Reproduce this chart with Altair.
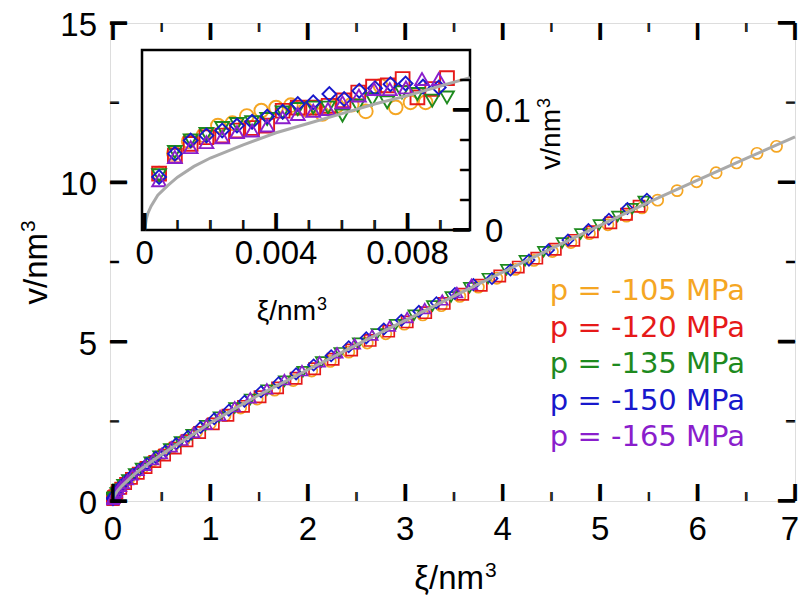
import altair as alt
import pandas as pd

# ---------------- data ----------------
series = ["p = -105 MPa", "p = -120 MPa", "p = -135 MPa", "p = -150 MPa", "p = -165 MPa"]
colors = ["#F5A623", "#E61919", "#1E8A1E", "#1818CC", "#8A1ECC"]
shapes = ["circle", "square", "triangle-down", "diamond", "triangle-up"]

ins_o_xi = [0.00044, 0.00089, 0.00134, 0.00179, 0.00223, 0.00267, 0.00311, 0.00355, 0.004, 0.00445,
            0.0049, 0.00541, 0.00585, 0.0063, 0.00673, 0.00718, 0.00764, 0.00809, 0.00855]
ins_o_v = [0.047, 0.064, 0.074, 0.079, 0.087, 0.089, 0.095, 0.0995, 0.102, 0.104,
           0.1005, 0.0967, 0.1035, 0.1045, 0.0989, 0.12, 0.1022, 0.1064, 0.1064]
ins_r_xi = [0.00044, 0.00092, 0.0014, 0.00188, 0.00236, 0.00281, 0.00327, 0.00373, 0.0042, 0.00466,
            0.00513, 0.0056, 0.00605, 0.0065, 0.00695, 0.0074, 0.00785, 0.0083, 0.00875, 0.0092]
ins_r_v = [0.047, 0.062, 0.0718, 0.0773, 0.0787, 0.0829, 0.085, 0.087, 0.0994, 0.102,
           0.102, 0.1035, 0.108, 0.1146, 0.1195, 0.1205, 0.1258, 0.1105, 0.1175, 0.1266]
ins_g_xi = [0.00044, 0.00092, 0.0014, 0.00188, 0.00236, 0.00281, 0.00327, 0.00373, 0.0042, 0.00466,
            0.00513, 0.00558, 0.00602, 0.00648, 0.00693, 0.00738, 0.00783, 0.0083, 0.00875, 0.0092]
ins_g_v = [0.0456, 0.065, 0.0746, 0.08, 0.085, 0.0884, 0.0898, 0.0925, 0.098, 0.1008,
           0.102, 0.102, 0.0954, 0.1036, 0.109, 0.1064, 0.1147, 0.1133, 0.1078, 0.1105]
ins_b_xi = [0.00044, 0.00092, 0.0014, 0.00188, 0.00236, 0.00281, 0.00327, 0.00373, 0.0042, 0.00466,
            0.00513, 0.00562, 0.00607, 0.00653, 0.00701, 0.00748, 0.00794, 0.00847, 0.00895]
ins_b_v = [0.0442, 0.0635, 0.0746, 0.0787, 0.0829, 0.087, 0.0903, 0.0945, 0.0986, 0.105,
           0.1064, 0.1133, 0.1091, 0.116, 0.1182, 0.1215, 0.1221, 0.1195, 0.1188]
ins_p_xi = [0.00044, 0.00092, 0.0014, 0.00188, 0.00236, 0.00281, 0.00327, 0.00373, 0.0042, 0.00466,
            0.00513, 0.00558, 0.00602, 0.00652, 0.00698, 0.00746, 0.00795, 0.00844, 0.00895]
ins_p_v = [0.0414, 0.0608, 0.069, 0.0732, 0.0773, 0.0815, 0.0829, 0.087, 0.0939, 0.0967,
           0.0994, 0.1008, 0.1064, 0.112, 0.1175, 0.1174, 0.1188, 0.1258, 0.1258]

o_xi = [0.02, 0.05, 0.1, 0.16, 0.23, 0.31, 0.4, 0.5, 0.61, 0.73, 0.86, 1.0, 1.15, 1.31, 1.48,
        1.66, 1.85, 2.04, 2.23, 2.42, 2.61, 2.8, 2.99, 3.18, 3.37, 3.56, 3.75, 3.94, 4.13, 4.32,
        4.51, 4.7, 4.89, 5.08, 5.27, 5.43, 5.59, 5.79, 5.99, 6.19, 6.4, 6.61, 6.81]
o_v = [0.19, 0.33, 0.5, 0.67, 0.86, 1.05, 1.25, 1.46, 1.68, 1.91, 2.17, 2.43, 2.68, 2.92, 3.2,
       3.48, 3.78, 4.08, 4.38, 4.67, 4.96, 5.25, 5.55, 5.84, 6.13, 6.42, 6.71, 6.99, 7.27, 7.55,
       7.83, 8.11, 8.39, 8.67, 8.94, 9.2, 9.44, 9.74, 10.02, 10.3, 10.61, 10.91, 11.13]
r_xi = [0.02, 0.04, 0.08, 0.13, 0.19, 0.26, 0.34, 0.43, 0.53, 0.64, 0.76, 0.89, 1.03, 1.18, 1.34,
        1.51, 1.69, 1.88, 2.07, 2.26, 2.45, 2.64, 2.83, 3.02, 3.21, 3.4, 3.59, 3.78, 3.97, 4.16,
        4.35, 4.54, 4.73, 4.92, 5.11, 5.27, 5.4]
r_v = [0.17, 0.26, 0.4, 0.55, 0.71, 0.87, 1.05, 1.24, 1.44, 1.66, 1.89, 2.15, 2.42, 2.69, 2.97,
       3.27, 3.55, 3.85, 4.15, 4.45, 4.74, 5.04, 5.33, 5.62, 5.91, 6.2, 6.49, 6.77, 7.06, 7.34,
       7.62, 7.9, 8.18, 8.45, 8.73, 9.0, 9.25]
g_xi = [0.03, 0.06, 0.1, 0.15, 0.22, 0.29, 0.38, 0.47, 0.58, 0.69, 0.81, 0.95, 1.09, 1.25, 1.41,
        1.58, 1.76, 1.95, 2.14, 2.33, 2.52, 2.71, 2.9, 3.09, 3.28, 3.47, 3.66, 3.85, 4.04, 4.23,
        4.42, 4.61, 4.8, 4.99, 5.18, 5.33, 5.45]
g_v = [0.25, 0.37, 0.51, 0.66, 0.85, 1.02, 1.22, 1.41, 1.63, 1.85, 2.08, 2.36, 2.63, 2.92, 3.19,
       3.48, 3.76, 4.06, 4.36, 4.65, 4.95, 5.24, 5.53, 5.83, 6.12, 6.4, 6.69, 6.98, 7.26, 7.54,
       7.82, 8.1, 8.38, 8.66, 8.93, 9.17, 9.4]
b_xi = [0.02, 0.05, 0.09, 0.14, 0.2, 0.27, 0.35, 0.44, 0.54, 0.65, 0.77, 0.9, 1.04, 1.19, 1.35,
        1.52, 1.7, 1.88, 2.06, 2.24, 2.42, 2.6, 2.78, 2.96, 3.14, 3.32, 3.51, 3.7, 3.89, 4.08,
        4.27, 4.47, 4.67, 4.88, 5.09, 5.28, 5.48]
b_v = [0.2, 0.35, 0.5, 0.65, 0.82, 0.98, 1.17, 1.37, 1.57, 1.8, 2.03, 2.31, 2.58, 2.85, 3.13,
       3.43, 3.71, 3.99, 4.27, 4.56, 4.84, 5.12, 5.4, 5.67, 5.95, 6.22, 6.51, 6.79, 6.98, 7.25,
       7.56, 7.88, 8.19, 8.52, 8.84, 9.18, 9.47]
p_xi = [0.01, 0.02, 0.035, 0.055, 0.08, 0.11, 0.15, 0.2, 0.26, 0.33, 0.41, 0.5, 0.6, 0.71, 0.83,
        0.96, 1.1, 1.25, 1.41, 1.58, 1.76, 1.94, 2.12, 2.3, 2.48, 2.66, 2.84, 3.02, 3.2, 3.38,
        3.53, 3.68]
p_v = [0.14, 0.21, 0.28, 0.37, 0.46, 0.55, 0.67, 0.82, 0.96, 1.12, 1.3, 1.49, 1.7, 1.91, 2.15,
       2.41, 2.68, 2.96, 3.24, 3.52, 3.81, 4.09, 4.37, 4.65, 4.93, 5.21, 5.49, 5.76, 6.04, 6.31,
       6.54, 6.8]

cm_xi = [0, 0.002, 0.005, 0.01, 0.02, 0.05, 0.1, 0.2, 0.3, 0.4, 0.5, 0.6, 0.8, 1.0, 1.25, 1.5,
         2.0, 2.5, 3.0, 3.5, 4.0, 4.5, 5.0, 5.5, 6.0, 6.5, 7.0]
cm_v = [0, 0.055, 0.088, 0.127, 0.19, 0.33, 0.5, 0.79, 1.03, 1.25, 1.46, 1.66, 2.05, 2.45, 2.9,
        3.33, 4.12, 4.9, 5.67, 6.43, 7.18, 7.92, 8.65, 9.38, 10.07, 10.75, 11.43]
ci_xi = [0, 0.00005, 0.0001, 0.0002, 0.0004, 0.0007, 0.001, 0.0015, 0.002, 0.003, 0.004, 0.005,
         0.006, 0.007, 0.008, 0.009, 0.0099]
ci_v = [0, 0.009, 0.014, 0.02, 0.029, 0.037, 0.044, 0.053, 0.06, 0.071, 0.081, 0.089, 0.097,
        0.105, 0.112, 0.12, 0.127]

mx_major = [0, 1, 2, 3, 4, 5, 6, 7]
mx_labels = ["0", "1", "2", "3", "4", "5", "6", "7"]
mx_minor = [0.5, 1.5, 2.5, 3.5, 4.5, 5.5, 6.5]
my_major = [0, 5, 10, 15]
my_labels = ["0", "5", "10", "15"]
my_minor = [2.5, 7.5, 12.5]
ix_major = [0, 0.004, 0.008]
ix_labels = ["0", "0.004", "0.008"]
ix_minor = [0.001, 0.002, 0.003, 0.005, 0.006, 0.007, 0.009]
iy_major = [0, 0.1]
iy_labels = ["0", "0.1"]
iy_minor = [0.025, 0.05, 0.075, 0.125]

# ---------------- build ----------------
ins_x = [ins_o_xi, ins_r_xi, ins_g_xi, ins_b_xi, ins_p_xi]
ins_y = [ins_o_v, ins_r_v, ins_g_v, ins_b_v, ins_p_v]
main_x = [o_xi, r_xi, g_xi, b_xi, p_xi]
main_y = [o_v, r_v, g_v, b_v, p_v]

rows_main, rows_ins = [], []
for s, ix, iv, mx, mv in zip(series, ins_x, ins_y, main_x, main_y):
    for a, b in zip(ix, iv):
        rows_ins.append({"xi": a, "v": b, "series": s})
        rows_main.append({"xi": a, "v": b, "series": s})
    for a, b in zip(mx, mv):
        rows_main.append({"xi": a, "v": b, "series": s})
df_main = pd.DataFrame(rows_main)
df_ins = pd.DataFrame(rows_ins)
df_cm = pd.DataFrame({"xi": cm_xi, "v": cm_v})
df_ci = pd.DataFrame({"xi": ci_xi, "v": ci_v})

W, H = 685, 478
FONT = "Liberation Sans"
LW = 2.5
MX = alt.Scale(domain=[-0.03, 7], nice=False, zero=False)
MY = alt.Scale(domain=[0, 15], nice=False, zero=False)
I_L, I_R, I_T, I_B = 32, 360, 27, 207
IX = alt.Scale(domain=[-0.00008, 0.0099], range=[I_L, I_R], nice=False, zero=False)
IY = alt.Scale(domain=[0, 0.15], range=[I_B, I_T], nice=False, zero=False)

col_sc = alt.Scale(domain=series, range=colors)
shp_sc = alt.Scale(domain=series, range=shapes)

# A bold "|" glyph spans about 0.73 em above and 0.21 em below its baseline.
UP, DN = 0.73, 0.21


def tick_glyphs(vals, scale, axis, edge, inward, length):
    """Inward tick marks drawn as bar glyphs (two copies side by side for thickness)."""
    fs = length / (UP + DN)
    df = pd.DataFrame({"tv": vals, "g": ["|"] * len(vals)})
    if axis == "x":
        if inward < 0:
            base_pos, ang = edge - DN * fs, 0
        else:
            base_pos, ang = edge + DN * fs, 180
    else:
        if inward > 0:
            base_pos, ang = edge + DN * fs, 90
        else:
            base_pos, ang = edge - DN * fs, 270
    out = []
    for off in (-0.6, 0.6):
        mk = alt.Chart(df).mark_text(
            font=FONT, fontSize=fs, fontWeight="bold", align="center", baseline="alphabetic",
            angle=ang, dx=off, color="black",
        )
        if axis == "x":
            out.append(mk.encode(x=alt.X("tv:Q", scale=scale, axis=None),
                                 y=alt.value(base_pos), text="g:N"))
        else:
            out.append(mk.encode(y=alt.Y("tv:Q", scale=scale, axis=None),
                                 x=alt.value(base_pos), text="g:N"))
    return out


def sup_title(text, size, x, y, angle=0):
    base = alt.Chart(pd.DataFrame({"t": [text]})).mark_text(
        font=FONT, fontSize=size, align="right", baseline="alphabetic", color="black", angle=angle
    ).encode(x=alt.value(x), y=alt.value(y), text="t:N")
    ss = round(size * 0.64)
    raise_ = round(size * 0.36)
    if angle == 0:
        sx, sy = x + 1, y - raise_
    else:
        sx, sy = x - raise_, y - 1
    sup = alt.Chart(pd.DataFrame({"t": ["3"]})).mark_text(
        font=FONT, fontSize=ss, align="left", baseline="alphabetic", color="black", angle=angle
    ).encode(x=alt.value(sx), y=alt.value(sy), text="t:N")
    return [base, sup]


pts_main = alt.Chart(df_main).mark_point(filled=False, size=125, strokeWidth=1.7, opacity=1).encode(
    x=alt.X("xi:Q", scale=MX, axis=None),
    y=alt.Y("v:Q", scale=MY, axis=None),
    color=alt.Color("series:N", scale=col_sc, legend=None),
    shape=alt.Shape("series:N", scale=shp_sc, legend=None),
)
curve_main = alt.Chart(df_cm).mark_line(color="#A9A9A9", strokeWidth=3).encode(
    x=alt.X("xi:Q", scale=MX, axis=None), y=alt.Y("v:Q", scale=MY, axis=None)
)
main_ticks = (
    tick_glyphs(mx_major, MX, "x", H, -1, 18)
    + tick_glyphs(mx_minor, MX, "x", H, -1, 9)
    + tick_glyphs(mx_major, MX, "x", 0, +1, 18)
    + tick_glyphs(mx_minor, MX, "x", 0, +1, 9)
    + tick_glyphs(my_major, MY, "y", 0, +1, 18)
    + tick_glyphs(my_minor, MY, "y", 0, +1, 9)
    + tick_glyphs(my_major, MY, "y", W, -1, 18)
    + tick_glyphs(my_minor, MY, "y", W, -1, 9)
)

xl = alt.Chart(pd.DataFrame({"t": mx_major[:-1], "lab": mx_labels[:-1]})).mark_text(
    font=FONT, fontSize=33, align="center", baseline="middle", color="black"
).encode(x=alt.X("t:Q", scale=MX, axis=None), y=alt.value(H + 29), text="lab:N")
xl_last = alt.Chart(pd.DataFrame({"t": mx_major[-1:], "lab": mx_labels[-1:]})).mark_text(
    font=FONT, fontSize=33, align="center", baseline="middle", dx=-5, color="black"
).encode(x=alt.X("t:Q", scale=MX, axis=None), y=alt.value(H + 29), text="lab:N")
yl = alt.Chart(pd.DataFrame({"t": my_major, "lab": my_labels})).mark_text(
    font=FONT, fontSize=33, align="right", baseline="middle", dy=3, color="black"
).encode(y=alt.Y("t:Q", scale=MY, axis=None), x=alt.value(-13), text="lab:N")

titles_main = sup_title("ξ/nm", 33, 374, 566) + sup_title("v/nm", 33, -63, 210, angle=270)

legend_layers = []
for i, (s, c) in enumerate(zip(series, colors)):
    legend_layers.append(
        alt.Chart(pd.DataFrame({"t": [s]})).mark_text(
            font="DejaVu Sans", fontSize=29, align="right", baseline="alphabetic", color=c
        ).encode(x=alt.value(635), y=alt.value(277 + 36.5 * i), text="t:N")
    )

main_layer = alt.layer(pts_main, curve_main, *main_ticks, xl, xl_last, yl, *titles_main,
                       *legend_layers)

inset_box = alt.Chart(pd.DataFrame({"a": [0]})).mark_rect(
    fill="white", stroke="black", strokeWidth=LW
).encode(x=alt.value(I_L), x2=alt.value(I_R), y=alt.value(I_T), y2=alt.value(I_B))
pts_ins = alt.Chart(df_ins).mark_point(filled=False, size=190, strokeWidth=1.9, opacity=1).encode(
    x=alt.X("xi:Q", scale=IX, axis=None),
    y=alt.Y("v:Q", scale=IY, axis=None),
    color=alt.Color("series:N", scale=col_sc, legend=None),
    shape=alt.Shape("series:N", scale=shp_sc, legend=None),
)
curve_ins = alt.Chart(df_ci).mark_line(color="#A9A9A9", strokeWidth=3).encode(
    x=alt.X("xi:Q", scale=IX, axis=None), y=alt.Y("v:Q", scale=IY, axis=None)
)
ins_ticks = (
    tick_glyphs(ix_major, IX, "x", I_B, -1, 18)
    + tick_glyphs(ix_minor, IX, "x", I_B, -1, 10)
    + tick_glyphs(iy_major, IY, "y", I_R, -1, 18)
    + tick_glyphs(iy_minor, IY, "y", I_R, -1, 10)
)

ixl = alt.Chart(pd.DataFrame({"t": ix_major, "lab": ix_labels})).mark_text(
    font=FONT, fontSize=33, align="center", baseline="middle", color="black"
).encode(x=alt.X("t:Q", scale=IX, axis=None), y=alt.value(I_B + 24), text="lab:N")
iyl = alt.Chart(pd.DataFrame({"t": iy_major, "lab": iy_labels})).mark_text(
    font=FONT, fontSize=33, align="left", baseline="middle", dy=2, color="black"
).encode(y=alt.Y("t:Q", scale=IY, axis=None), x=alt.value(I_R + 15), text="lab:N")
titles_ins = sup_title("ξ/nm", 28, 206, 297) + sup_title("v/nm", 28, 450, 86, angle=270)

inset_layer = alt.layer(inset_box, pts_ins, curve_ins, *ins_ticks, ixl, iyl, *titles_ins)

chart = (
    alt.layer(main_layer, inset_layer)
    .resolve_scale(x="independent", y="independent")
    .properties(
        width=W,
        height=H,
        autosize=alt.AutoSizeParams(type="none"),
        padding={"left": 102, "top": 15, "right": 4, "bottom": 100},
    )
    .configure_view(stroke="black", strokeWidth=LW)
    .configure(background="white")
)

chart.save("out.html", embed_options={"renderer": "svg", "actions": False})
